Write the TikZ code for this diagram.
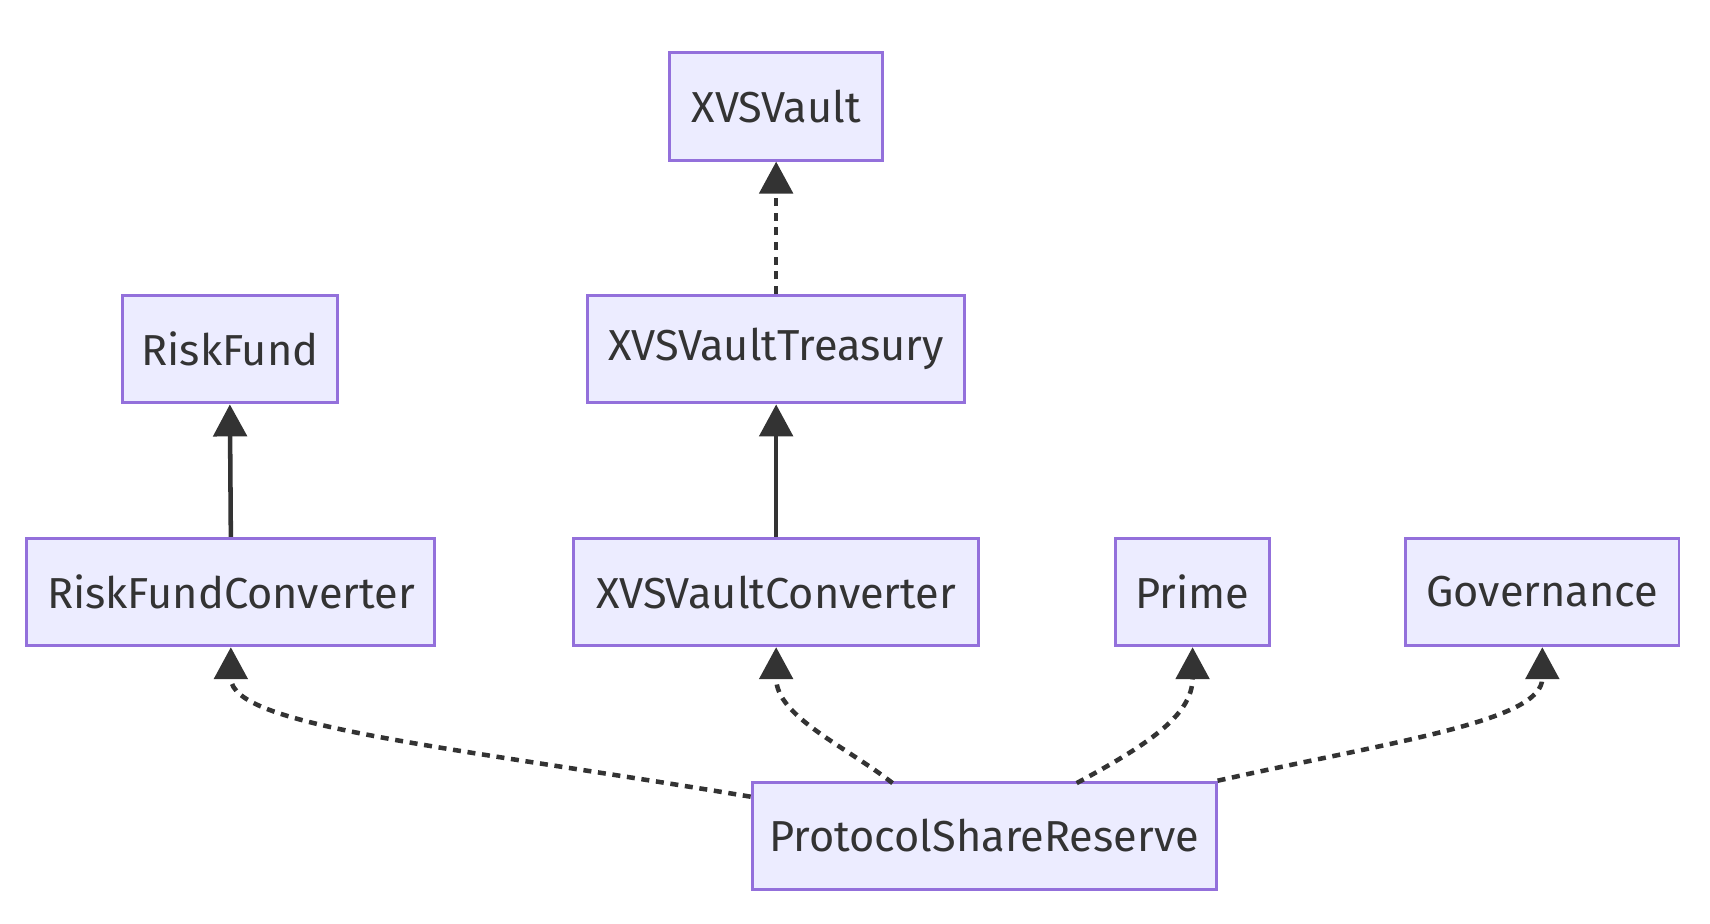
\documentclass[tikz,border=0pt]{standalone}
\usepackage{fontspec}
\setmainfont{Fira Sans}
\usetikzlibrary{arrows.meta}
\definecolor{boxfill}{HTML}{ECECFF}
\definecolor{boxline}{HTML}{9370DB}
\definecolor{edge}{HTML}{333333}
\begin{document}
\begin{tikzpicture}[x=0.7463pt,y=-0.7463pt,
  box/.style={draw=boxline,fill=boxfill,line width=2.2pt,rectangle,inner sep=0pt,
    minimum height=80.5pt,text=edge,font=\fontsize{32.5}{39}\selectfont},
  link/.style={draw=edge,line width=3.4pt,-{Triangle[length=24pt,width=25pt]}},
  dotlink/.style={link,dash pattern=on 6pt off 5pt}]
\useasboundingbox (0,0) rectangle (1718.5,928.5);
\node[box,minimum width=160pt] (vault) at (780,107) {XVSVault};
\node[box,minimum width=161pt] (risk) at (231,351) {RiskFund};
\node[box,minimum width=283pt] (treas) at (780,351) {XVSVaultTreasury};
\node[box,minimum width=306pt] (rfc) at (232,595) {RiskFundConverter};
\node[box,minimum width=303.5pt] (xvc) at (780,595) {XVSVaultConverter};
\node[box,minimum width=115.5pt] (prime) at (1198.5,595) {Prime};
\node[box,minimum width=205pt] (gov) at (1550,595) {Governance};
\node[box,minimum width=348pt] (psr) at (989,840) {ProtocolShareReserve};
\draw[link] (rfc.north) -- (risk.south);
\draw[link] (xvc.north) -- (treas.south);
\draw[dotlink] (treas.north) -- (vault.south);
\coordinate (s1) at ([yshift=-12pt]psr.north west);
\coordinate (s2) at (897,787);
\coordinate (s3) at (1082,787);
\draw[dotlink] (s1) .. controls (450,750) and (232,730) .. (rfc.south);
\draw[dotlink] (s2) .. controls (850,750) and (780,720) .. (xvc.south);
\draw[dotlink] (s3) .. controls (1150,750) and (1198.5,720) .. (prime.south);
\draw[dotlink] (psr.north east) .. controls (1400,745) and (1550,725) .. (gov.south);
\end{tikzpicture}
\end{document}
